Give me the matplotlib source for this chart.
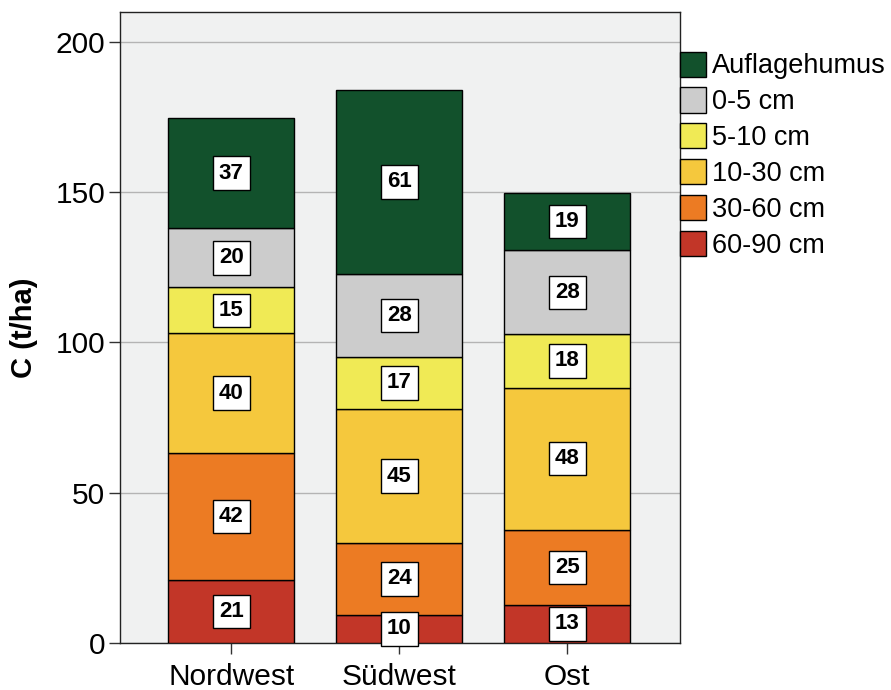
#!/usr/bin/env python

import matplotlib
matplotlib.use("Agg")
import matplotlib.pyplot as plt
import numpy as np

plt.rcParams["font.family"] = ["Liberation Sans", "DejaVu Sans"]

regions = ["Nordwest", "Südwest", "Ost"]
layers = ["60-90 cm", "30-60 cm", "10-30 cm", "5-10 cm", "0-5 cm", "Auflagehumus"]
colors = ["#c23628", "#ec7b23", "#f5c83d", "#f0ea55", "#cccccc", "#12512c"]

# carbon stock per layer (t/ha), bottom to top
values = {
    "60-90 cm": [21, 9.5, 12.7],
    "30-60 cm": [42.3, 23.7, 25],
    "10-30 cm": [39.7, 44.7, 47.3],
    "5-10 cm": [15.3, 17.3, 17.7],
    "0-5 cm": [19.7, 27.7, 28],
    "Auflagehumus": [36.7, 61, 19],
}
labels = {
    "60-90 cm": [21, 10, 13],
    "30-60 cm": [42, 24, 25],
    "10-30 cm": [40, 45, 48],
    "5-10 cm": [15, 17, 18],
    "0-5 cm": [20, 28, 28],
    "Auflagehumus": [37, 61, 19],
}


def main():
    fig = plt.figure(figsize=(8.91, 6.9), dpi=100)
    ax = fig.add_axes([0.135, 0.068, 0.628, 0.915])
    ax.set_facecolor("#f0f1f1")

    x = np.arange(len(regions))
    bottom = np.zeros(len(regions))
    handles = []
    for layer, color in zip(layers, colors):
        vals = np.array(values[layer])
        bars = ax.bar(x, vals, width=0.75, bottom=bottom, color=color,
                      edgecolor="black", linewidth=1.0, zorder=3, label=layer)
        handles.append(bars)
        for xi, b, v, lab in zip(x, bottom, vals, labels[layer]):
            ax.text(xi, b + v / 2, str(lab), ha="center", va="center",
                    fontsize=16, fontweight="bold", zorder=5,
                    bbox=dict(boxstyle="square,pad=0.28", facecolor="white",
                              edgecolor="black", linewidth=1.0))
        bottom += vals

    ax.set_xlim(-0.66, 2.67)
    ax.set_ylim(0, 210)
    ax.set_yticks([0, 50, 100, 150, 200])
    ax.yaxis.grid(True, color="#b4b4b4", linewidth=1.0, zorder=0)
    ax.set_axisbelow(True)
    ax.set_xticks(x)
    ax.set_xticklabels(regions)
    ax.tick_params(axis="both", labelsize=21.5, length=8, width=1.0,
                   color="#333333", pad=3)
    ax.tick_params(axis="x", pad=6)
    ax.set_ylabel("C (t/ha)", fontsize=21, fontweight="bold", labelpad=12.5)
    for sp in ax.spines.values():
        sp.set_color("#222222")
        sp.set_linewidth(1.0)

    ax.legend(handles[::-1], layers[::-1], loc="upper left",
              bbox_to_anchor=(1.0, 0.937), frameon=False, fontsize=19.5,
              handlelength=0.98, handleheight=1.05, handletextpad=0.2,
              labelspacing=0.3, borderaxespad=0.0, borderpad=0.0)

    fig.savefig("out.png", dpi=100)


if __name__ == "__main__":
    main()
